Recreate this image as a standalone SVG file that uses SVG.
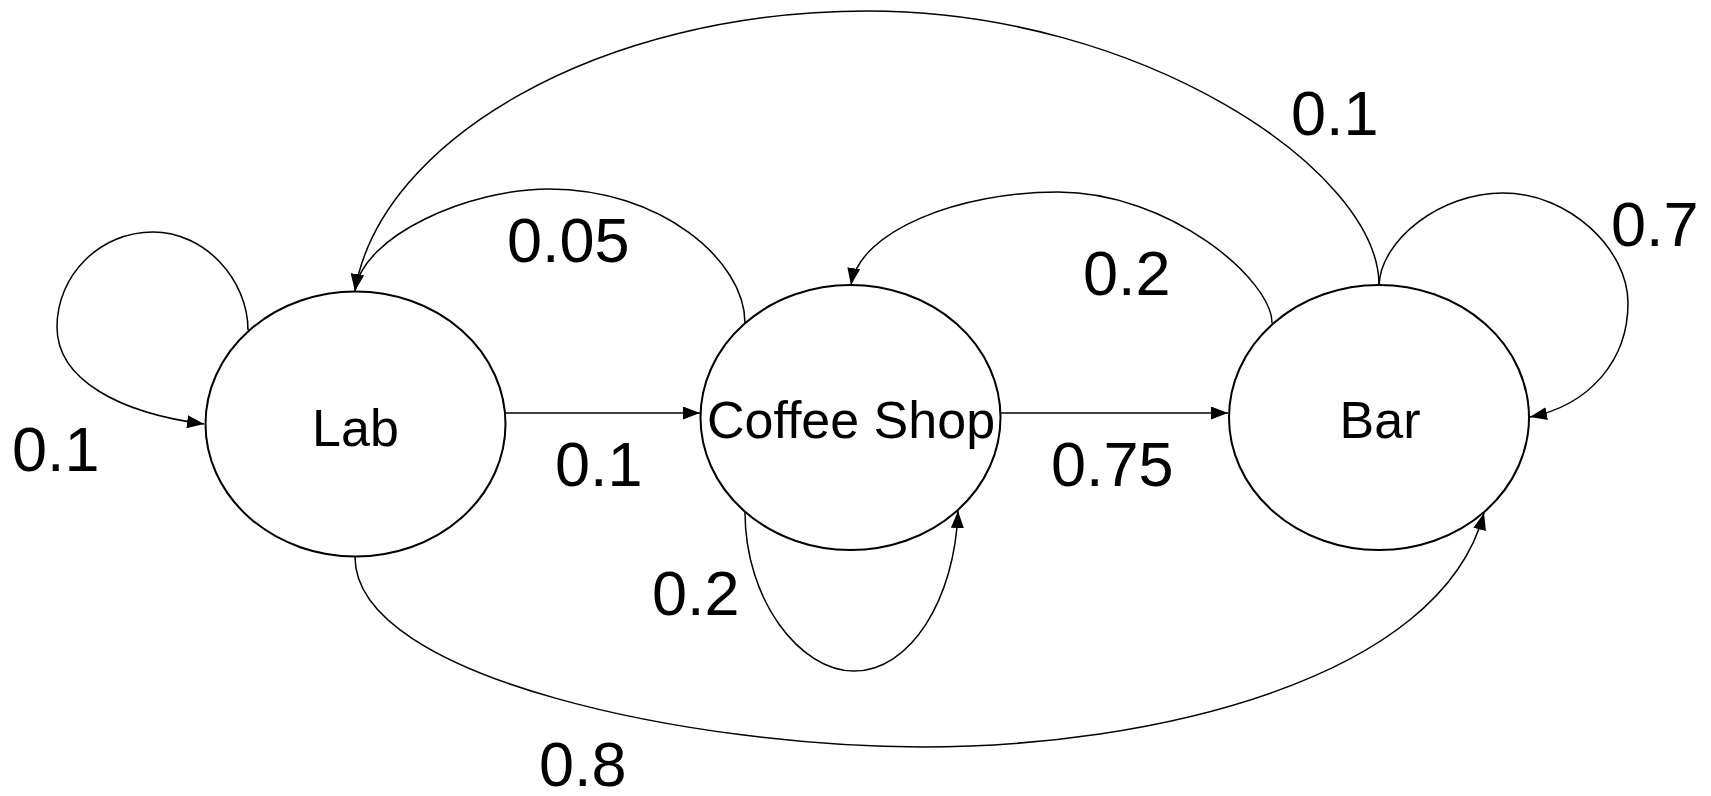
<svg xmlns="http://www.w3.org/2000/svg" width="1711" height="796" viewBox="0 0 1711 796">
<style>
.node{fill:#fff;stroke:#000;stroke-width:2}
.nt{font-family:"Liberation Sans",Arial,sans-serif;font-size:52px;text-anchor:middle;fill:#000}
.edge{fill:none;stroke:#000;stroke-width:1.5;marker-end:url(#arr)}
.lbl{font-family:"Liberation Sans",Arial,sans-serif;font-size:63px;fill:#000}
</style>
<defs>
<marker id="arr" viewBox="0 0 17 13" refX="17" refY="6.5" markerWidth="17" markerHeight="13" markerUnits="userSpaceOnUse" orient="auto">
<path d="M0,0 L17,6.5 L0,13 z" fill="#000"/>
</marker>
</defs>
<rect width="1711" height="796" fill="#fff"/>
<g id="connectors">
<path class="edge" d="M248,330 C248,280 205,232 153,232 C100,232 57,275 57,327 C57,380 120,413 204,424"/>
<path class="edge" d="M505,413 L700,413"/>
<path class="edge" d="M1000,413 L1228,413"/>
<path class="edge" d="M745,323 C745,260 660,189 549,189 C470,189 362,235 355,291"/>
<path class="edge" d="M1379,285 C1379,170 1140,11 868,11 C600,11 380,140 355,291"/>
<path class="edge" d="M1272,323 C1272,280 1170,192 1058,192 C960,192 860,230 851,285"/>
<path class="edge" d="M1379,285 C1381,240 1440,193 1503,193 C1570,193 1628,250 1628,303 C1628,360 1590,405 1530,417"/>
<path class="edge" d="M745,512 C745,600 800,671 854,671 C910,671 955,600 958,511"/>
<path class="edge" d="M355,557 C355,680 700,747 922,747 C1150,747 1440,680 1484,513"/>
</g>
<g id="labels">
<text class="lbl" x="12" y="471">0.1</text>
<text class="lbl" x="507" y="262">0.05</text>
<text class="lbl" x="555" y="486">0.1</text>
<text class="lbl" x="1083" y="295">0.2</text>
<text class="lbl" x="1051" y="486">0.75</text>
<text class="lbl" x="1611" y="246">0.7</text>
<text class="lbl" x="1291" y="135">0.1</text>
<text class="lbl" x="652" y="615">0.2</text>
<text class="lbl" x="539" y="786">0.8</text>
</g>
<g id="lab">
<ellipse class="node" cx="355.5" cy="424" rx="150" ry="132.5"/>
<text class="nt" x="355.5" y="446">Lab</text>
</g>
<g id="coffee">
<ellipse class="node" cx="850.5" cy="417.5" rx="150" ry="132.5"/>
<text class="nt" x="851" y="438">Coffee Shop</text>
</g>
<g id="bar">
<ellipse class="node" cx="1379" cy="417.5" rx="150" ry="132.5"/>
<text class="nt" x="1380" y="438">Bar</text>
</g>
</svg>
